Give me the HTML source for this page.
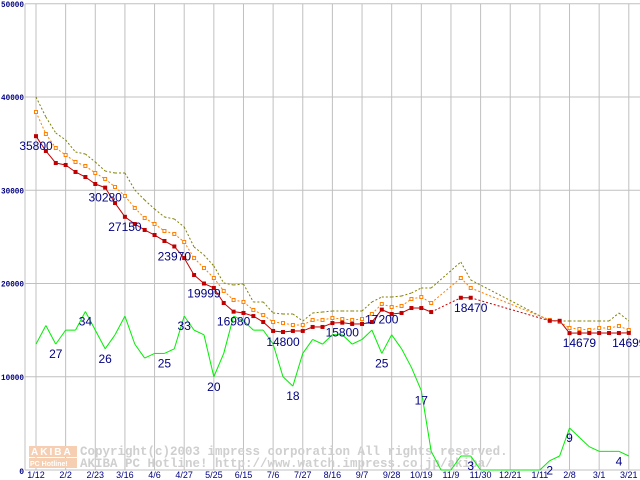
<!DOCTYPE html>
<html><head><meta charset="utf-8"><style>
html,body{margin:0;padding:0;background:#fff;}
svg{display:block;}
.yt{font-family:"Liberation Mono",monospace;font-size:8px;font-weight:bold;fill:#000080;}
.xt{font-family:"Liberation Sans",sans-serif;font-size:9px;fill:#000080;}
.lb{font-family:"Liberation Sans",sans-serif;font-size:12px;fill:#000080;}
.wm{font-family:"Liberation Mono",monospace;font-size:12.5px;font-weight:bold;fill:#cfcfcf;}
</style></head><body>
<svg id="chart" width="640" height="480" viewBox="0 0 640 480">
<g id="grid"></g>
<g id="wm">
 <rect x="29" y="446" width="48" height="11" fill="#f6cfb2"/>
 <rect x="29" y="458" width="48" height="10" fill="#f6cfb2"/>
 <text x="31" y="455" style="font-family:'Liberation Sans',sans-serif;font-size:10px;font-weight:bold;fill:#fff;letter-spacing:2px">AKIBA</text>
 <text x="30" y="466" style="font-family:'Liberation Sans',sans-serif;font-size:7px;font-weight:bold;fill:#fff">PC Hotline!</text>
 <text class="wm" x="80" y="455">Copyright(c)2003 impress corporation All rights reserved.</text>
 <text class="wm" x="80" y="467">AKIBA PC Hotline!  http://www.watch.impress.co.jp/akiba/</text>
</g>
<g id="marks"></g>
<g id="axes"></g>
</svg>
<script>
const xLabels = ["1/12","2/2","2/23","3/16","4/6","4/27","5/25","6/15","7/6","7/27","8/16","9/7","9/28","10/19","11/9","11/30","12/21","1/11","2/8","3/1","3/21"];
const yTicks = [0,10000,20000,30000,40000,50000];
const minPrice = [35800,34210,32920,32710,31960,31420,30670,30280,28630,27150,26380,25740,25200,24560,23970,22730,20910,19999,19520,17910,16980,16840,16510,15870,14910,14800,14910,14910,15340,15340,15760,15800,15660,15660,15870,17200,16730,16840,17370,17370,16940,null,null,18470,18470,null,null,null,null,null,null,null,16000,16000,14679,14690,14690,14690,14690,14690,14699];
const avgPrice = [38390,36030,34530,33780,33030,32600,31850,31210,30350,29380,28100,27020,26380,25630,25310,24450,22730,21660,20590,19200,18230,18020,17160,16620,15870,15760,15550,15550,16090,16090,16300,16190,16090,16190,16730,17800,17480,17590,18340,18550,17910,null,null,20590,19520,null,null,null,null,null,null,null,16090,15870,15230,15120,15010,15230,15230,15440,15010];
const maxPrice = [40000,37860,36140,35390,34100,33890,33030,32060,31850,31850,30030,28950,27990,27130,26920,26060,23910,23060,21880,20050,19840,19950,18020,18020,16840,16730,16730,15980,16840,16940,17050,17050,17050,17050,18020,18550,18550,18660,18980,19520,19520,null,null,22310,20380,null,null,null,null,null,null,null,15980,15980,15980,15980,15980,15980,15980,16840,15980];
const shopCount = [27,31,27,30,30,34,30,26,29,33,27,24,25,25,26,33,30,29,20,25,33,32,30,30,27,20,18,25,28,27,29,29,27,28,30,25,29,26,22,17,4,0,0,3,3,0,0,0,0,0,0,0,2,3,9,7,5,4,4,4,3];
const priceLabelIdx = [0,7,9,14,17,20,25,31,35,44,55,60];
const priceLabelTxt = ["35800","30280","27150","23970","19999","16980","14800","15800","17200","18470","14679","14699"];
const countLabelIdx = [2,5,7,13,15,18,26,35,39,44,52,54,59];
const countLabelTxt = ["27","34","26","25","33","20","18","25","17","3","2","9","4"];

const NS="http://www.w3.org/2000/svg";
const X0=36, DX=9.88, Y0=470, PXPER=0.009325;
function xs(i){return X0+i*DX;}
function ys(v){return Y0-v*PXPER;}
function yc(v){return Y0-v*500*PXPER;}
function mk(tag,attrs,parent){const e=document.createElementNS(NS,tag);for(const k in attrs)e.setAttribute(k,attrs[k]);parent.appendChild(e);return e;}
const grid=document.getElementById('grid'), marks=document.getElementById('marks'), axes=document.getElementById('axes');

yTicks.forEach(function(t){
  const y=ys(t);
  const l=mk('line',{x1:25,x2:640,y1:y,y2:y,stroke:'#c0c0c0','stroke-width':1},grid);
  
  
  const s=String(t);
  const a={x:24,y:t===0?474:y+3,'text-anchor':'end',class:'yt'};
  if(s.length>1){a.textLength=s.length*4.6;a.lengthAdjust='spacingAndGlyphs';}
  const tx=mk('text',a,axes);
  tx.textContent=s;
  
  
});
const ax=mk('line',{x1:25,x2:25,y1:4,y2:470,stroke:'#c0c0c0','stroke-width':1},grid);


xLabels.forEach(function(s,k){
  const x=xs(k*3);
  const l=mk('line',{x1:x,x2:x,y1:4,y2:470,stroke:'#c0c0c0','stroke-width':1},grid);
  
  
  const tx=mk('text',{x:x,y:478,'text-anchor':'middle',class:'xt'},axes);
  tx.textContent=s;
  
  
});

function drawSeries(arr,scale,color,solid,name){
  let prev=-1;
  for(let i=0;i<arr.length;i++){
    if(arr[i]===null)continue;
    if(prev>=0){
      const gap=i-prev>1;
      const a={x1:xs(prev),y1:scale(arr[prev]),x2:xs(i),y2:scale(arr[i]),stroke:color,'stroke-width':1};
      if(!solid||gap)a['stroke-dasharray']='2,2';
      const l=mk('line',a,marks);
      
      
    }
    prev=i;
  }
}
drawSeries(shopCount,yc,'#00ee00',true,'shop-count');
drawSeries(maxPrice,ys,'#808000',false,'max-price');
drawSeries(avgPrice,ys,'#ff8000',false,'avg-price');
drawSeries(minPrice,ys,'#c00000',true,'min-price');
avgPrice.forEach(function(v,i){
  if(v===null)return;
  const r=mk('rect',{x:xs(i)-1.5,y:ys(v)-1.5,width:3,height:3,fill:'#fff',stroke:'#ff8000','stroke-width':1},marks);
  
  
});
minPrice.forEach(function(v,i){
  if(v===null)return;
  const r=mk('rect',{x:xs(i)-2,y:ys(v)-2,width:4,height:4,fill:'#c00000'},marks);
  
  
});
priceLabelIdx.forEach(function(i,k){
  const tx=mk('text',{x:xs(i),y:ys(minPrice[i])+14,'text-anchor':'middle',class:'lb'},marks);
  tx.textContent=priceLabelTxt[k];
  
  
});
countLabelIdx.forEach(function(i,k){
  const tx=mk('text',{x:xs(i),y:yc(shopCount[i])+14,'text-anchor':'middle',class:'lb'},marks);
  tx.textContent=countLabelTxt[k];
  
  
});
</script>
</body></html>
